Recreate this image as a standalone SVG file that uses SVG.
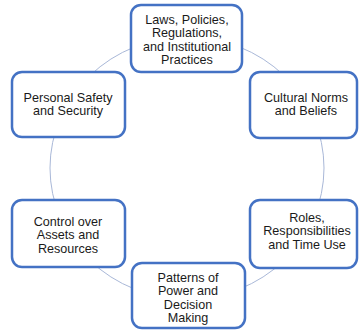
<svg xmlns="http://www.w3.org/2000/svg" width="359" height="330" viewBox="0 0 359 330">
<style>
.box{fill:#ffffff;stroke:#4472C4;stroke-width:2.5}
.t{font-family:"Liberation Sans",Arial,sans-serif;font-size:12.6px;fill:#1a1a1a;text-anchor:middle}
.arc{fill:none;stroke:#A9B8D8;stroke-width:1}
</style>
<rect width="359" height="330" fill="#ffffff"/>
<g id="connectors">
<ellipse class="arc" cx="187" cy="168" rx="137" ry="131"/>
</g>
<g id="n-laws">
<rect class="box" x="131" y="5" width="111" height="67" rx="10"/>
<text class="t" x="187" y="23.5">Laws, Policies,</text>
<text class="t" x="187" y="37">Regulations,</text>
<text class="t" x="187" y="50.5">and Institutional</text>
<text class="t" x="187" y="64">Practices</text>
</g>
<g id="n-cultural">
<rect class="box" x="250" y="72" width="107" height="66" rx="10"/>
<text class="t" x="306" y="101.5">Cultural Norms</text>
<text class="t" x="306" y="115">and Beliefs</text>
</g>
<g id="n-roles">
<rect class="box" x="250" y="200" width="107" height="68" rx="10"/>
<text class="t" x="307" y="221.5">Roles,</text>
<text class="t" x="307" y="235">Responsibilities</text>
<text class="t" x="307" y="248.5">and Time Use</text>
</g>
<g id="n-patterns">
<rect class="box" x="132" y="263" width="113" height="65" rx="10"/>
<text class="t" x="188" y="281.5">Patterns of</text>
<text class="t" x="188" y="295">Power and</text>
<text class="t" x="188" y="308.5">Decision</text>
<text class="t" x="188" y="322">Making</text>
</g>
<g id="n-control">
<rect class="box" x="12" y="200" width="113" height="67" rx="10"/>
<text class="t" x="68" y="225.5">Control over</text>
<text class="t" x="68" y="239">Assets and</text>
<text class="t" x="68" y="252.5">Resources</text>
</g>
<g id="n-safety">
<rect class="box" x="12" y="72" width="113" height="65" rx="10"/>
<text class="t" x="68" y="101.5">Personal Safety</text>
<text class="t" x="68" y="115">and Security</text>
</g>
</svg>
